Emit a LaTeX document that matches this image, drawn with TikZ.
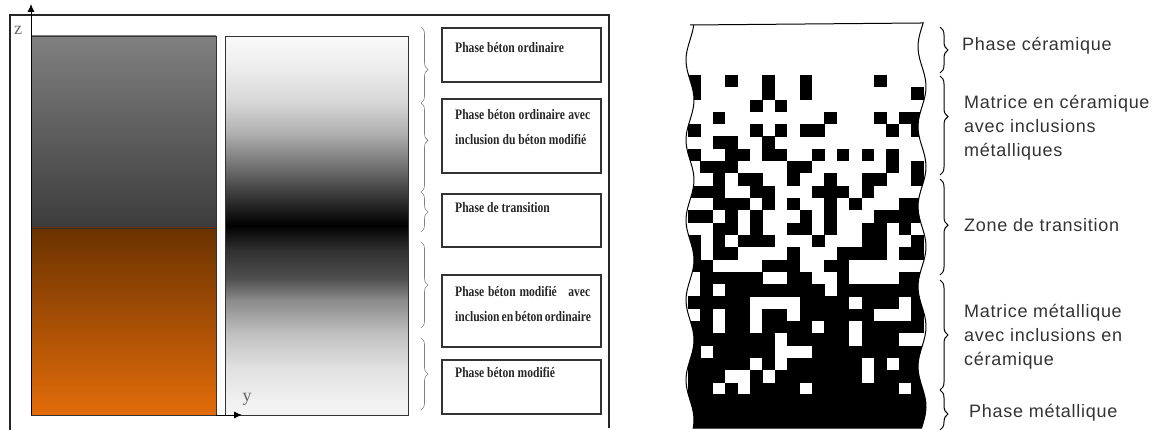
\documentclass[tikz,border=0pt]{standalone}
\usepackage{fontspec}
\setmainfont{Liberation Serif}
\newfontfamily\boxfont[FakeStretch=0.8]{Liberation Serif}
\newfontfamily\sidefont[LetterSpace=4]{Liberation Sans}
\usetikzlibrary{arrows.meta,decorations.pathreplacing,positioning}

\definecolor{concgray}{HTML}{808080}
\definecolor{concdark}{HTML}{3C3C3C}
\definecolor{rustdark}{HTML}{6A3200}
\definecolor{rustlight}{HTML}{E36C0A}

% white - black - white band of the graded layer
\pgfdeclareverticalshading{blackband}{100bp}{%
 color(0bp)=(black!4); color(25bp)=(black!4); color(27bp)=(black!6);
 color(31.3bp)=(black!12); color(35.8bp)=(black!25); color(40.2bp)=(black!46);
 color(43bp)=(black!69); color(46.8bp)=(black!81); color(50bp)=(black);
 color(53.4bp)=(black!81); color(57.7bp)=(black!56); color(62.2bp)=(black!31);
 color(66.6bp)=(black!15); color(70.9bp)=(black!7); color(75bp)=(black!2);
 color(100bp)=(black!2)}

\def\colpath{(690,25) -- (921,23)
 -- plot[variable=\t,domain=23:428,samples=80] ({922+4*sin(4.5*\t+60)},\t)
 -- plot[variable=\t,domain=428:25,samples=80] ({690+4*sin(4.5*\t)},\t) -- cycle}

\begin{document}
\begin{tikzpicture}[x=1pt,y=-1pt,
  lbox/.style={draw=black!80, line width=1.6pt, inner sep=0pt, minimum width=159pt},
  ltext/.style={font=\boxfont\bfseries\fontsize{14.5}{25}\selectfont, anchor=west, align=left, inner sep=0pt, text=black!85},
  rtext/.style={font=\sidefont\fontsize{18}{24}\selectfont, anchor=west, align=left, inner sep=0pt, text=black!80},
  lbrace/.style={decorate, decoration={brace, amplitude=7pt, #1}, draw=black!50, line width=0.6pt},
  rbrace/.style={decorate, decoration={brace, amplitude=8pt, #1}, line width=1pt},
  axislbl/.style={font=\fontsize{18}{18}\selectfont, text=black!60, inner sep=0pt}]
\useasboundingbox (0,0) rectangle (1166,430);

% left: frame
\draw[line width=1.4pt, black!85] (10,430) -- (10,15) -- (609,15) -- (609,428);

% left: the two material blocks
\shade[top color=concgray, bottom color=concdark] (31,36) rectangle (216,228);
\shade[top color=rustdark, bottom color=rustlight] (31,228) rectangle (216,415);
\draw[black!80, line width=0.8pt] (31,36) rectangle (216,415) (31,228) -- (216,228);
\shade[shading=blackband] (225,36) rectangle (408,415);
\draw[black!80, line width=0.8pt] (225,36) rectangle (408,415);

% axes
\coordinate (O) at (31,415);
\coordinate (ztip) at (31,4);
\coordinate (yorig) at (216,415);
\coordinate (ytip) at (242,415);
\draw[-{Latex[length=8pt,width=7pt]}, line width=0.8pt] (O) -- (ztip);
\draw[-{Latex[length=8pt,width=7pt]}, line width=0.8pt] (yorig) -- (ytip);
\node[axislbl] (zl) at (18,30) {z};
\node[axislbl] (yl) at (247,399) {y};

% left: braces
\draw[lbrace={aspect=0.56}] (421,27) -- (421,103);
\draw[lbrace={aspect=0.42}] (421,103) -- (421,192);
\draw[lbrace] (421,192) -- (421,232);
\draw[lbrace] (421,242) -- (421,328);
\draw[lbrace] (421,338) -- (421,410);

% left: label boxes
\node[lbox, minimum height=54pt] (b1) at (521.5,55) {};
\node[lbox, minimum height=74pt] (b2) at (521.5,136) {};
\node[lbox, minimum height=53pt] (b3) at (521.5,220.5) {};
\node[lbox, minimum height=72pt] (b4) at (521.5,311) {};
\node[lbox, minimum height=54pt] (b5) at (521.5,387) {};
\node[ltext] (t1) at (455,48) {Phase béton ordinaire};
\node[ltext] (t2) at (455,127) {\makebox[135pt][s]{Phase béton ordinaire avec}\\inclusion du béton modifié};
\node[ltext] (t3) at (455,208) {Phase de transition};
\node[ltext] (t4) at (455,303.5) {\makebox[135pt][s]{Phase béton modifié\ \ \ avec}\\\makebox[135pt][s]{inclusion en béton ordinaire}};
\node[ltext] (t5) at (455,372) {Phase béton modifié};

% right: ceramic / metal column
\fill[white] \colpath;
\begin{scope}
\clip \colpath;
\pgfmathsetseed{2024}
\foreach \r in {0,...,25}{
  \foreach \c in {0,...,18}{
    \pgfmathtruncatemacro{\hit}{rnd < 0.18+0.64*\r/25 ? 1 : 0}
    \ifnum\hit=1 \fill (688+12.4*\c,75+12.3*\r) rectangle ++(12.5,12.4); \fi
  }
}
\fill (680,394) rectangle (935,432);
\end{scope}
\draw[line width=1pt] \colpath;

% right: braces
\draw[rbrace] (940,27) -- (940,73);
\draw[rbrace={aspect=0.41}] (940,76) -- (940,175);
\draw[rbrace={aspect=0.48}] (940,179) -- (940,275);
\draw[rbrace] (940,280) -- (940,390);
\draw[rbrace={aspect=0.6}] (940,390) -- (940,430);

% right: labels
\node[rtext] (r1) at (962,46) {Phase céramique};
\node[rtext] (r2) at (964,128) {Matrice en céramique\\avec inclusions\\métalliques};
\node[rtext] (r3) at (964,225) {Zone de transition};
\node[rtext] (r4) at (964,337) {Matrice métallique\\avec inclusions en\\céramique};
\node[rtext] (r5) at (969,413) {Phase métallique};
\end{tikzpicture}
\end{document}
